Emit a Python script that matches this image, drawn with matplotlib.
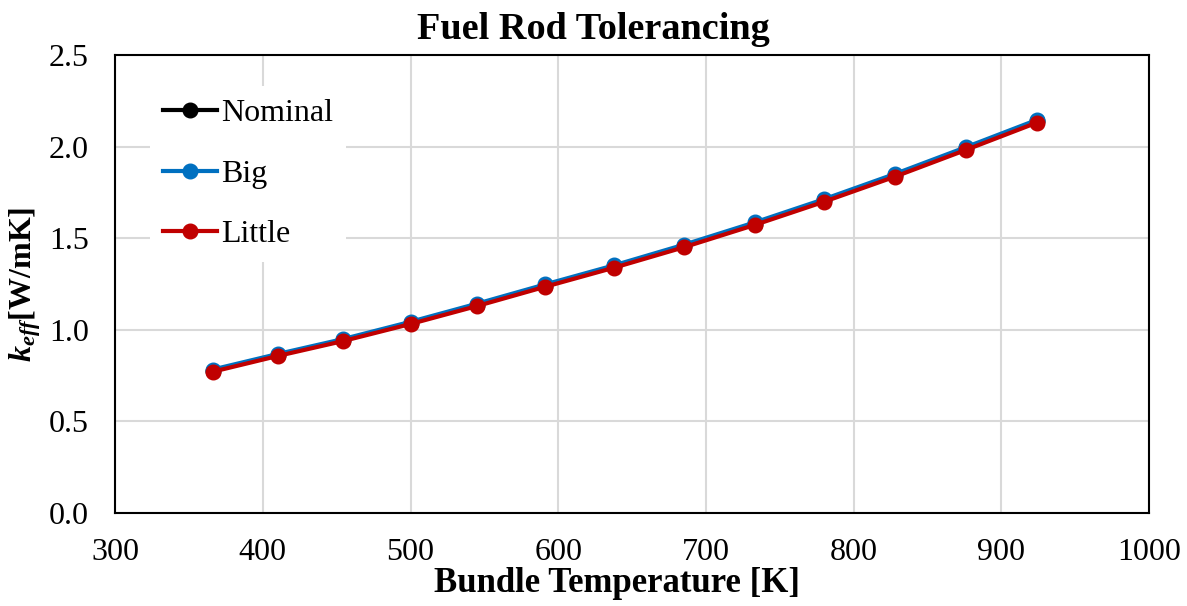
import numpy as np
import matplotlib.pyplot as plt

plt.rcParams['font.family'] = 'Liberation Serif'
plt.rcParams['mathtext.fontset'] = 'custom'
plt.rcParams['mathtext.rm'] = 'Liberation Serif'
plt.rcParams['mathtext.it'] = 'Liberation Serif:italic'
plt.rcParams['mathtext.bf'] = 'Liberation Serif:bold'
plt.rcParams['mathtext.bfit'] = 'Liberation Serif:bold:italic'

# bundle temperature [K] and effective conductivity [W/mK]
temperature = [366, 410, 454, 500, 545, 591, 638, 685, 733, 780, 828, 876, 924]
k_big = [0.782, 0.867, 0.948, 1.043, 1.142, 1.247, 1.352, 1.464, 1.586, 1.713, 1.851, 1.997, 2.146]
k_little = [0.770, 0.856, 0.937, 1.031, 1.129, 1.234, 1.339, 1.450, 1.572, 1.699, 1.836, 1.982, 2.131]
k_nominal = [0.776, 0.862, 0.943, 1.037, 1.136, 1.241, 1.346, 1.457, 1.579, 1.706, 1.844, 1.990, 2.139]

series = [('Nominal', k_nominal, 'black'),
          ('Big', k_big, '#0070C0'),
          ('Little', k_little, '#C00000')]

fig = plt.figure(figsize=(11.87, 6.06), dpi=100)
ax = fig.add_axes([0.097, 0.154, 0.871, 0.755])

for name, vals, col in series:
    ax.plot(temperature, vals, color=col, lw=3, marker='o', ms=10.5, label=name)

ax.set_xlim(300, 1000)
ax.set_ylim(0, 2.5)
ax.set_xticks(np.arange(300, 1001, 100))
ax.set_yticks(np.arange(0, 2.51, 0.5))
ax.yaxis.set_major_formatter(plt.FormatStrFormatter('%.1f'))
ax.grid(True, color='#d9d9d9', lw=1.5)
ax.set_axisbelow(True)
ax.tick_params(length=0, labelsize=23)
ax.tick_params(axis='y', pad=19)
ax.tick_params(axis='x', pad=18)
for sp in ax.spines.values():
    sp.set_linewidth(1.5)

# title sits centred on the whole figure
fig.suptitle('Fuel Rod Tolerancing', fontsize=27.5, fontweight='bold', x=0.5, y=0.98, va='top')
ax.set_xlabel('Bundle Temperature [K]', fontsize=25, fontweight='bold', labelpad=0, x=0.4855)
ax.set_ylabel(r'$\mathbfit{k}_{\mathbfit{eff}}$[W/mK]', fontsize=23, fontweight='bold', labelpad=4)

leg = ax.legend(loc='upper left', bbox_to_anchor=(0.034, 0.932), borderaxespad=0,
                fontsize=23, frameon=True, edgecolor='none', framealpha=1, fancybox=False,
                handlelength=1.7, handletextpad=0.12, labelspacing=0.97, borderpad=0.4)

fig.savefig('out.png', dpi=100)
